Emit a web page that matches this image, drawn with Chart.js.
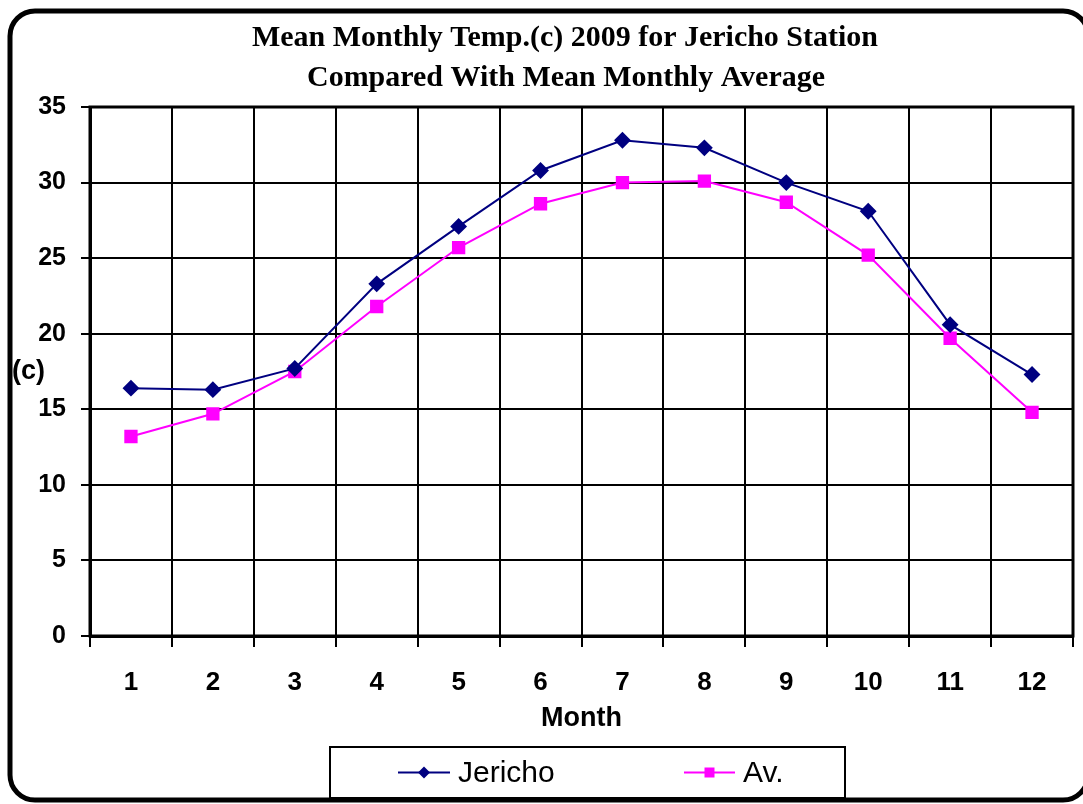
<!DOCTYPE html>
<html><head><meta charset="utf-8">
<script src="https://cdn.jsdelivr.net/npm/chart.js@4/dist/chart.umd.min.js"></script>
<style>html,body{margin:0;padding:0;background:#fff;}canvas{display:block}</style>
</head><body>
<canvas id="c" width="1083" height="804"></canvas>
<script>
const months = ['1','2','3','4','5','6','7','8','9','10','11','12'];
const jericho = [16.4,16.3,17.7,23.3,27.1,30.8,32.8,32.3,30.0,28.1,20.6,17.3];
const average = [13.2,14.7,17.5,21.8,25.7,28.6,30.0,30.1,28.7,25.2,19.7,14.8];
const seriesNames = ['Jericho','Av.'];
const titleLines = ['Mean Monthly Temp.(c) 2009 for Jericho Station','Compared With Mean Monthly Average'];
const yAxisLabel = '(c)';
const xAxisLabel = 'Month';
const yMin = 0, yMax = 35, yStep = 5;

const SANS = '"Liberation Sans", Arial, sans-serif';

const decor = {
  id:'decor',
  beforeDraw(chart){
    const ctx = chart.ctx;
    ctx.save();
    ctx.fillStyle='#fff';
    ctx.fillRect(0,0,chart.width,chart.height);
    ctx.restore();
  },
  afterDatasetsDraw(chart){},
  afterDraw(chart){
    const ctx = chart.ctx;
    const ca = chart.chartArea;
    ctx.save();
    // plot area border
    ctx.lineWidth = 3;
    ctx.strokeStyle = '#000';
    ctx.strokeRect(ca.left, ca.top, ca.right-ca.left, ca.bottom-ca.top);
    // frame
    ctx.lineWidth = 5;
    ctx.beginPath();
    ctx.roundRect(10,11,1078,789,25);
    ctx.stroke();
    // title
    ctx.fillStyle='#000';
    ctx.font = 'bold 30px "Liberation Serif", "Times New Roman", serif';
    ctx.textAlign='center'; ctx.textBaseline='middle';
    ctx.fillText(titleLines[0], 565, 38, 626);
    ctx.fillText(titleLines[1], 566, 78, 518);
    // y label
    ctx.font = 'bold 27px ' + SANS;
    ctx.textAlign='left';
    ctx.fillText(yAxisLabel, 12, 372);
    // legend
    const lx=330, ly=747, lw=515, lh=51;
    ctx.lineWidth=2;
    ctx.strokeRect(lx,ly,lw,lh);
    const cy = ly+lh/2;
    const items = [
      {x1:398,x2:450,tx:458,ds:chart.data.datasets[0]},
      {x1:684,x2:735,tx:743,ds:chart.data.datasets[1]}
    ];
    ctx.font = '30px ' + SANS;
    items.forEach(it=>{
      ctx.strokeStyle = it.ds.borderColor;
      ctx.lineWidth = 2;
      ctx.beginPath(); ctx.moveTo(it.x1,cy); ctx.lineTo(it.x2,cy); ctx.stroke();
      ctx.fillStyle = it.ds.pointBackgroundColor;
      ctx.beginPath();
      const mx=(it.x1+it.x2)/2;
      if(it.ds.pointStyle==='rectRot'){
        ctx.moveTo(mx,cy-6);ctx.lineTo(mx+6,cy);ctx.lineTo(mx,cy+6);ctx.lineTo(mx-6,cy);ctx.closePath();
      } else {
        ctx.rect(mx-5,cy-5,10,10);
      }
      ctx.fill();
      ctx.fillStyle='#000';
      ctx.textAlign='left';
      ctx.fillText(it.ds.label, it.tx, cy+1);
    });
    ctx.restore();
  }
};

new Chart(document.getElementById('c'),{
  type:'line',
  data:{
    labels:months,
    datasets:[
      {label:seriesNames[0],data:jericho,borderColor:'#000080',backgroundColor:'#000080',pointBackgroundColor:'#000080',pointBorderColor:'#000080',borderWidth:2,pointStyle:'rectRot',pointRadius:7,pointHoverRadius:7,tension:0},
      {label:seriesNames[1],data:average,borderColor:'#FF00FF',backgroundColor:'#FF00FF',pointBackgroundColor:'#FF00FF',pointBorderColor:'#FF00FF',borderWidth:2,pointStyle:'rect',pointRadius:8,pointHoverRadius:8,tension:0}
    ]
  },
  options:{
    responsive:false,
    animation:false,
    layout:{padding:{top:107,right:8,bottom:0,left:0}},
    plugins:{legend:{display:false},tooltip:{enabled:false},title:{display:false}},
    scales:{
      x:{
        type:'category',
        offset:true,
        grid:{offset:true,color:'#000',lineWidth:2,tickLength:11,tickColor:'#000'},
        border:{color:'#000',width:3},
        ticks:{color:'#000',font:{family:SANS,size:26,weight:'bold'},padding:20,maxRotation:0},
        title:{display:true,text:xAxisLabel,color:'#000',font:{family:SANS,size:27,weight:'bold'},padding:{top:0,bottom:69}},
        afterFit(s){s.height=168;}
      },
      y:{
        min:yMin,max:yMax,
        grid:{color:'#000',lineWidth:2,tickLength:9,tickColor:'#000'},
        border:{color:'#000',width:3},
        ticks:{stepSize:yStep,color:'#000',font:{family:SANS,size:25,weight:'bold'},padding:15},
        afterFit(s){s.width=90;}
      }
    }
  },
  plugins:[decor]
});
</script>
</body></html>
